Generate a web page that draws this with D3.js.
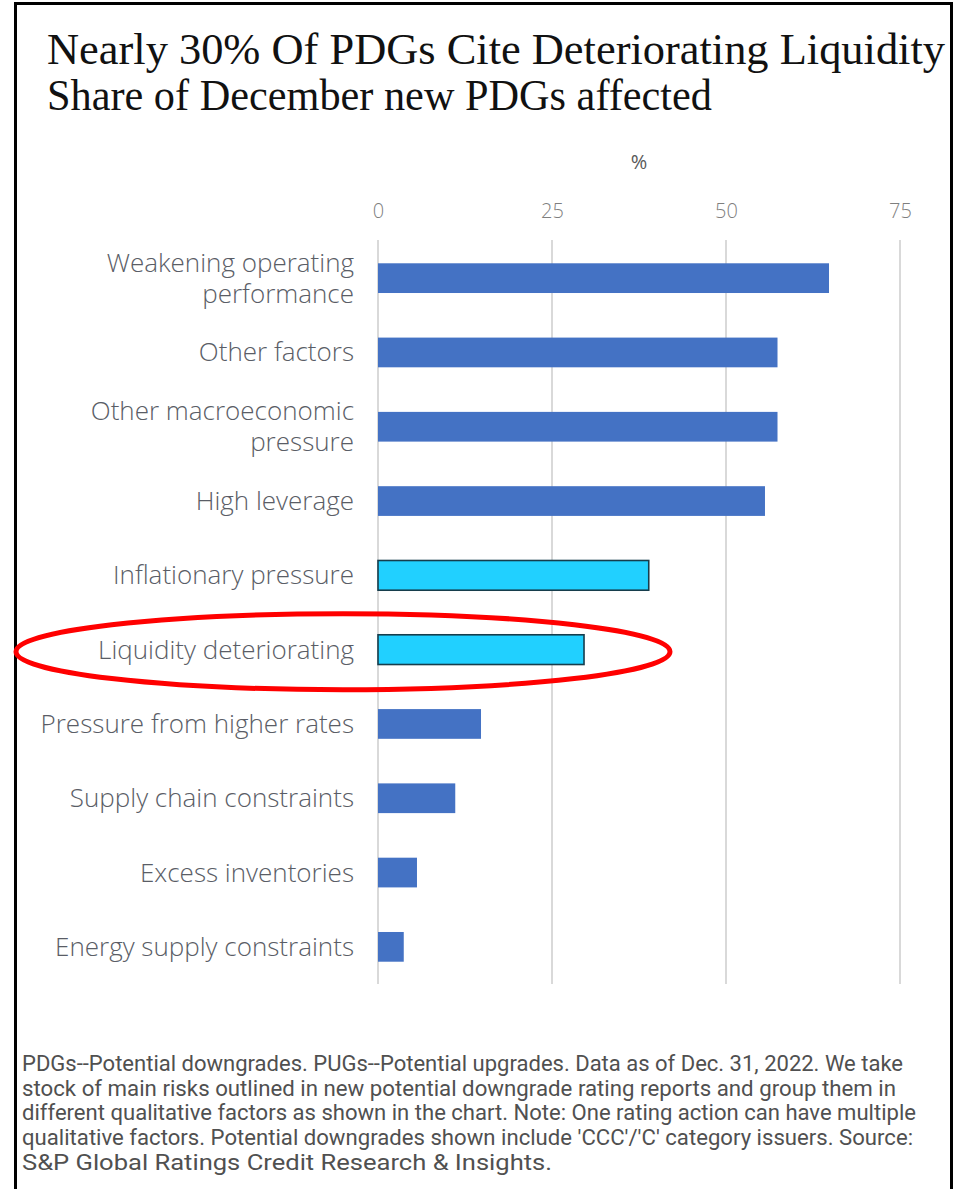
<!DOCTYPE html>
<html>
<head>
<meta charset="utf-8">
<script src="https://cdn.jsdelivr.net/npm/d3@7"></script>
<style>
  html, body { margin: 0; padding: 0; background: #fff; }
  svg { display: block; }
</style>
</head>
<body>
<div id="chart"></div>
<script>
// Qualitative factors cited in new December PDGs (share of issuers, %)
const categories = [
  "Weakening operating performance",
  "Other factors",
  "Other macroeconomic pressure",
  "High leverage",
  "Inflationary pressure",
  "Liquidity deteriorating",
  "Pressure from higher rates",
  "Supply chain constraints",
  "Excess inventories",
  "Energy supply constraints"
];
const labelLines = [
  ["Weakening operating", "performance"],
  ["Other factors"],
  ["Other macroeconomic", "pressure"],
  ["High leverage"],
  ["Inflationary pressure"],
  ["Liquidity deteriorating"],
  ["Pressure from higher rates"],
  ["Supply chain constraints"],
  ["Excess inventories"],
  ["Energy supply constraints"]
];
const values = [64.8, 57.4, 57.4, 55.6, 38.9, 29.6, 14.8, 11.1, 5.6, 3.7];
const highlighted = ["Inflationary pressure", "Liquidity deteriorating"];
const circled = "Liquidity deteriorating";
const tickValues = [0, 25, 50, 75];

const titleLines = [
  "Nearly 30% Of PDGs Cite Deteriorating Liquidity",
  "Share of December new PDGs affected"
];
const axisTitle = "%";
const footnoteLines = [
  "PDGs--Potential downgrades. PUGs--Potential upgrades. Data as of Dec. 31, 2022. We take",
  "stock of main risks outlined in new potential downgrade rating reports and group them in",
  "different qualitative factors as shown in the chart. Note: One rating action can have multiple",
  "qualitative factors. Potential downgrades shown include 'CCC'/'C' category issuers. Source:",
  "S&P Global Ratings Credit Research & Insights."
];

const rows = categories.map((c, i) => ({ name: c, value: values[i], lines: labelLines[i] }));

const W = 960, H = 1189;
const svg = d3.select("#chart").append("svg")
  .attr("width", W).attr("height", H)
  .attr("viewBox", `0 0 ${W} ${H}`);

svg.append("rect").attr("width", W).attr("height", H).attr("fill", "#fff");

// frame
svg.append("rect")
  .attr("x", 15.5).attr("y", 3.5)
  .attr("width", 936).attr("height", H + 10)
  .attr("fill", "none").attr("stroke", "#000").attr("stroke-width", 3);

// titles
const titleWidths = [898, 665];
const titleY = [64, 110];
svg.selectAll("text.title").data(titleLines).join("text")
  .attr("class", "title")
  .attr("x", 47).attr("y", (d, i) => titleY[i])
  .attr("textLength", (d, i) => titleWidths[i])
  .attr("lengthAdjust", "spacingAndGlyphs")
  .style("font-family", "'Liberation Serif', 'Times New Roman', serif")
  .style("font-size", "45px")
  .attr("fill", "#111")
  .text(d => d);

// scales
const x = d3.scaleLinear().domain([0, 75]).range([378, 900]);
const y = d3.scaleBand().domain(categories).range([241, 984])
  .paddingInner(0.6).paddingOuter(0.3);

// gridlines
svg.append("g").selectAll("line").data(tickValues).join("line")
  .attr("x1", d => x(d)).attr("x2", d => x(d))
  .attr("y1", 240).attr("y2", 984)
  .attr("stroke", "#d9d9d9").attr("stroke-width", 2);

// top axis
const axis = svg.append("g")
  .attr("transform", "translate(0,218)")
  .call(d3.axisTop(x).tickValues(tickValues).tickSize(0).tickPadding(0));
axis.select(".domain").remove();
axis.selectAll("text")
  .style("font-family", "'Open Sans', Roboto, sans-serif")
  .style("font-size", "20px")
  .style("font-weight", 300)
  .attr("fill", "#7f7f7f");

svg.append("text")
  .attr("x", (x.range()[0] + x.range()[1]) / 2).attr("y", 169)
  .attr("text-anchor", "middle")
  .style("font-family", "'Open Sans', Roboto, sans-serif")
  .style("font-size", "20px")
  .attr("fill", "#595959")
  .text(axisTitle);

// bars
svg.append("g").selectAll("rect").data(rows).join("rect")
  .attr("x", x(0))
  .attr("y", d => y(d.name))
  .attr("width", d => x(d.value) - x(0))
  .attr("height", y.bandwidth())
  .attr("fill", d => highlighted.includes(d.name) ? "#21d0ff" : "#4472c4")
  .attr("stroke", d => highlighted.includes(d.name) ? "#163d4c" : "none")
  .attr("stroke-width", 1.6);

// category labels
const lineGap = 31;
const labels = svg.append("g").selectAll("text").data(rows).join("text")
  .attr("text-anchor", "end")
  .style("font-family", "'Open Sans', Roboto, sans-serif")
  .style("font-size", "26px")
  .style("font-weight", 300)
  .attr("fill", "#5a5d66");
labels.each(function(d) {
  const cy = y(d.name) + y.bandwidth() / 2;
  const n = d.lines.length;
  d3.select(this).selectAll("tspan").data(d.lines).join("tspan")
    .attr("x", 354)
    .attr("y", (t, j) => cy + (j - (n - 1) / 2) * lineGap + 9)
    .text(t => t);
});

// annotation ellipse round the liquidity row
svg.append("ellipse")
  .attr("cx", 343)
  .attr("cy", y(circled) + y.bandwidth() / 2 + 2)
  .attr("rx", 327).attr("ry", 38)
  .attr("fill", "none").attr("stroke", "#ff0000").attr("stroke-width", 5);

// footnote
const footWidths = [881, 874, 894, 891, 530];
svg.selectAll("text.foot").data(footnoteLines).join("text")
  .attr("class", "foot")
  .attr("x", 22).attr("y", (d, i) => 1071 + i * 24.7)
  .attr("textLength", (d, i) => footWidths[i])
  .attr("lengthAdjust", "spacingAndGlyphs")
  .style("font-family", "Roboto, 'Open Sans', sans-serif")
  .style("font-size", "22px")
  .attr("fill", "#505050")
  .text(d => d);
</script>
</body>
</html>
